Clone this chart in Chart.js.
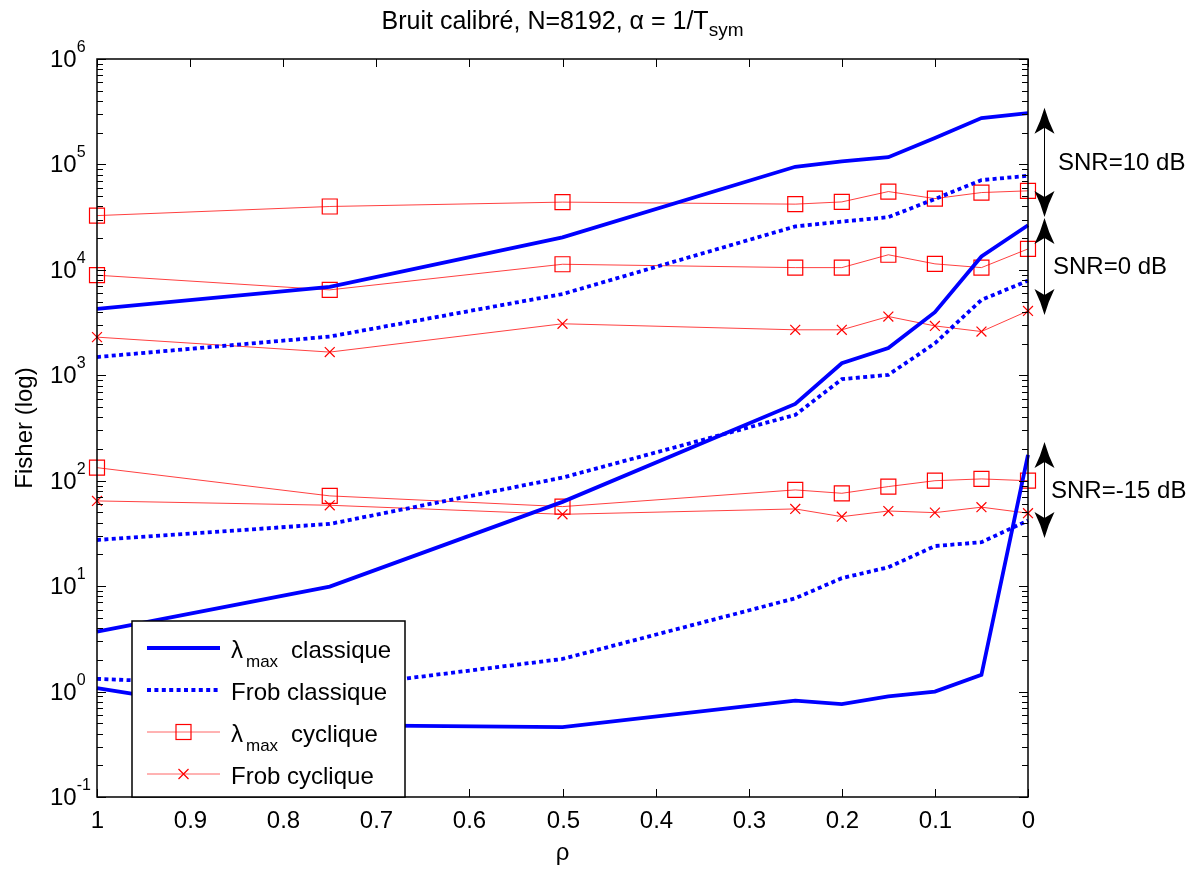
<!DOCTYPE html>
<html>
<head>
<meta charset="utf-8">
<script src="https://cdn.jsdelivr.net/npm/chart.js@4.4.1/dist/chart.umd.min.js"></script>
<style>
  html, body { margin: 0; padding: 0; background: #fff; }
</style>
</head>
<body>
<canvas id="fisherChart" width="1197" height="870"></canvas>
<script>
// rho values (x axis, drawn reversed from 1 to 0)
const rho = [1, 0.75, 0.5, 0.25, 0.2, 0.15, 0.1, 0.05, 0];

// SNR = 10 dB
const lmaxClassique10 = [4270, 6900, 20300, 95000, 107000, 117000, 178000, 275000, 307000];
const frobClassique10 = [1490, 2330, 5900, 25800, 28700, 31600, 47000, 71000, 78000];
const lmaxCyclique10 = [32700, 39900, 43900, 42000, 44100, 55300, 47400, 54100, 56200];

// SNR = 0 dB
const lmaxClassique0 = [3.7, 9.9, 63, 535, 1300, 1810, 3970, 13400, 26500];
const frobClassique0 = [27.4, 38.9, 107, 421, 918, 1010, 2010, 5190, 7900];
const lmaxCyclique0 = [8900, 6460, 11300, 10500, 10500, 13900, 11400, 10500, 15800];
const frobCyclique0 = [2300, 1660, 3080, 2700, 2700, 3610, 2940, 2600, 4080];

// SNR = -15 dB
const lmaxClassiqueM15 = [1.08, 0.48, 0.46, 0.82, 0.76, 0.9, 1.0, 1.44, 176];
const frobClassiqueM15 = [1.32, 1.08, 2.04, 7.67, 11.9, 15.1, 24.0, 26.1, 41.9];
const lmaxCycliqueM15 = [133, 71.8, 56.8, 81.8, 76, 88, 100, 104, 100];
const frobCycliqueM15 = [64.3, 58.5, 48, 54, 45.6, 51.6, 49.8, 56.1, 49.2];

const xTicks = [0, 0.1, 0.2, 0.3, 0.4, 0.5, 0.6, 0.7, 0.8, 0.9, 1];
const yDecades = [-1, 0, 1, 2, 3, 4, 5, 6];

// double arrows on the right, in data units
const snrMarks = [
  { label: 'SNR=10 dB', from: 3.44e5, to: 3.18e4, dx: 30 },
  { label: 'SNR=0 dB', from: 3.11e4, to: 3.74e3, dx: 25 },
  { label: 'SNR=-15 dB', from: 233, to: 28.6, dx: 23 },
];

const legendRows = [
  { main: 'λ', sub: 'max', rest: 'classique', kind: 'solid' },
  { main: 'Frob classique', sub: '', rest: '', kind: 'dotted' },
  { main: 'λ', sub: 'max', rest: 'cyclique', kind: 'square' },
  { main: 'Frob cyclique', sub: '', rest: '', kind: 'cross' },
];

const BLUE = '#0000ff';
const RED = '#ff0000';
const FONT = '"Liberation Sans", Arial, Helvetica, sans-serif';

const toPoints = (values) => values.map((v, i) => ({ x: rho[i], y: v }));

const solidLine = (label, values) => ({
  label, data: toPoints(values), borderColor: BLUE, borderWidth: 3.8,
  pointRadius: 0, tension: 0, fill: false, clip: false,
});

const dottedLine = (label, values) => ({
  label, data: toPoints(values), borderColor: BLUE, borderWidth: 3.8,
  borderDash: [4, 3.4], borderCapStyle: 'butt',
  pointRadius: 0, tension: 0, fill: false, clip: false,
});

const markedLine = (label, values, style) => ({
  label, data: toPoints(values), borderColor: 'rgba(255,0,0,0.75)', borderWidth: 1,
  pointStyle: style, pointRadius: style === 'rect' ? 10.6 : 7,
  pointBorderColor: RED, pointBackgroundColor: 'rgba(0,0,0,0)', pointBorderWidth: 1.2,
  tension: 0, fill: false, clip: false,
});

// draws text pieces one after another (gap = extra space before a piece)
const drawParts = (ctx, parts, x, y) => {
  parts.forEach((p) => {
    if (!p.text) return;
    x += p.gap || 0;
    ctx.font = `${p.size}px ${FONT}`;
    ctx.fillText(p.text, x, y + (p.dy || 0));
    x += ctx.measureText(p.text).width;
  });
  return x;
};

const partsWidth = (ctx, parts) => parts.reduce((w, p) => {
  if (!p.text) return w;
  ctx.font = `${p.size}px ${FONT}`;
  return w + (p.gap || 0) + ctx.measureText(p.text).width;
}, 0);

const drawArrowHead = (ctx, x, tipY, dir) => {
  // dir = 1 points up, -1 points down
  ctx.beginPath();
  ctx.moveTo(x, tipY);
  ctx.quadraticCurveTo(x - 4, tipY + dir * 14, x - 10, tipY + dir * 26);
  ctx.lineTo(x, tipY + dir * 20);
  ctx.lineTo(x + 10, tipY + dir * 26);
  ctx.quadraticCurveTo(x + 4, tipY + dir * 14, x, tipY);
  ctx.closePath();
  ctx.fill();
};

const matlabAxes = {
  id: 'matlabAxes',
  afterDraw(chart) {
    const { ctx, chartArea: a, scales: { x, y } } = chart;
    ctx.save();
    ctx.fillStyle = '#000';
    ctx.strokeStyle = '#000';

    // box
    ctx.lineWidth = 1.5;
    ctx.strokeRect(a.left, a.top, a.right - a.left, a.bottom - a.top);

    // x ticks + labels
    ctx.lineWidth = 1;
    ctx.font = `24px ${FONT}`;
    ctx.textAlign = 'center';
    ctx.textBaseline = 'middle';
    xTicks.forEach((v) => {
      const px = Math.round(x.getPixelForValue(v)) + 0.5;
      ctx.beginPath();
      ctx.moveTo(px, a.bottom); ctx.lineTo(px, a.bottom - 8);
      ctx.moveTo(px, a.top); ctx.lineTo(px, a.top + 8);
      ctx.stroke();
      ctx.fillText(String(Number(v.toFixed(1))), px, a.bottom + 24);
    });

    // y ticks (major + minor) + labels 10^k
    yDecades.forEach((k) => {
      const py = Math.round(y.getPixelForValue(10 ** k)) + 0.5;
      ctx.beginPath();
      ctx.moveTo(a.left, py); ctx.lineTo(a.left + 9, py);
      ctx.moveTo(a.right, py); ctx.lineTo(a.right - 9, py);
      ctx.stroke();
      if (k < 6) {
        for (let m = 2; m <= 9; m++) {
          const pm = Math.round(y.getPixelForValue(m * 10 ** k)) + 0.5;
          ctx.beginPath();
          ctx.moveTo(a.left, pm); ctx.lineTo(a.left + 6, pm);
          ctx.moveTo(a.right, pm); ctx.lineTo(a.right - 6, pm);
          ctx.stroke();
        }
      }
      ctx.textAlign = 'left';
      ctx.textBaseline = 'middle';
      ctx.font = `24px ${FONT}`;
      ctx.fillText('10', 50, py + 1);
      const w = ctx.measureText('10').width;
      ctx.font = `16px ${FONT}`;
      ctx.fillText(String(k), 50 + w, py - 12);
    });

    // axis titles
    ctx.textAlign = 'center';
    ctx.textBaseline = 'alphabetic';
    ctx.font = `24px ${FONT}`;
    ctx.fillText('ρ', (a.left + a.right) / 2, 860);
    ctx.save();
    ctx.translate(32, (a.top + a.bottom) / 2);
    ctx.rotate(-Math.PI / 2);
    ctx.fillText('Fisher (log)', 0, 0);
    ctx.restore();

    // title with subscript
    const titleParts = [
      { text: 'Bruit calibré, N=8192, α = 1/T', size: 25 },
      { text: 'sym', size: 19, dy: 7 },
    ];
    ctx.textAlign = 'left';
    const tw = partsWidth(ctx, titleParts);
    drawParts(ctx, titleParts, (a.left + a.right) / 2 - tw / 2, 29);

    // legend
    const lx = a.left + 35;
    const lw = 273;
    const lh = 176;
    const ly = a.bottom - lh;
    ctx.fillStyle = '#fff';
    ctx.fillRect(lx, ly, lw, lh);
    ctx.lineWidth = 1.5;
    ctx.strokeRect(lx, ly, lw, lh);
    legendRows.forEach((row, i) => {
      const cy = ly + 27 + i * 42;
      const x0 = lx + 15;
      const x1 = lx + 88;
      ctx.save();
      ctx.beginPath();
      ctx.moveTo(x0, cy); ctx.lineTo(x1, cy);
      if (row.kind === 'solid' || row.kind === 'dotted') {
        ctx.strokeStyle = BLUE;
        ctx.lineWidth = 3.8;
        if (row.kind === 'dotted') ctx.setLineDash([4, 3.4]);
        ctx.stroke();
      } else {
        ctx.strokeStyle = 'rgba(255,0,0,0.6)';
        ctx.lineWidth = 1;
        ctx.stroke();
        ctx.strokeStyle = RED;
        ctx.lineWidth = 1.2;
        const mx = (x0 + x1) / 2;
        if (row.kind === 'square') {
          ctx.strokeRect(mx - 7.5, cy - 7.5, 15, 15);
        } else {
          ctx.beginPath();
          ctx.moveTo(mx - 5, cy - 5); ctx.lineTo(mx + 5, cy + 5);
          ctx.moveTo(mx + 5, cy - 5); ctx.lineTo(mx - 5, cy + 5);
          ctx.stroke();
        }
      }
      ctx.restore();
      ctx.fillStyle = '#000';
      ctx.textBaseline = 'alphabetic';
      drawParts(ctx, [
        { text: row.main, size: 24 },
        { text: row.sub, size: 17, dy: 9, gap: 3 },
        { text: row.rest, size: 24, gap: 13 },
      ], lx + 99, cy + 10);
    });

    // SNR double arrows
    ctx.fillStyle = '#000';
    ctx.strokeStyle = '#000';
    ctx.lineWidth = 1;
    const ax = a.right + 16.5;
    snrMarks.forEach((m) => {
      const yTop = y.getPixelForValue(m.from);
      const yBot = y.getPixelForValue(m.to);
      ctx.beginPath();
      ctx.moveTo(ax, yTop + 4); ctx.lineTo(ax, yBot - 4);
      ctx.stroke();
      drawArrowHead(ctx, ax, yTop, 1);
      drawArrowHead(ctx, ax, yBot, -1);
      ctx.font = `24px ${FONT}`;
      ctx.textAlign = 'left';
      ctx.textBaseline = 'middle';
      ctx.fillText(m.label, a.right + m.dx, (yTop + yBot) / 2 + 1);
    });

    ctx.restore();
  },
};

new Chart(document.getElementById('fisherChart'), {
  type: 'line',
  data: {
    datasets: [
      solidLine('λmax classique 10 dB', lmaxClassique10),
      solidLine('λmax classique 0 dB', lmaxClassique0),
      solidLine('λmax classique -15 dB', lmaxClassiqueM15),
      dottedLine('Frob classique 10 dB', frobClassique10),
      dottedLine('Frob classique 0 dB', frobClassique0),
      dottedLine('Frob classique -15 dB', frobClassiqueM15),
      markedLine('λmax cyclique 10 dB', lmaxCyclique10, 'rect'),
      markedLine('λmax cyclique 0 dB', lmaxCyclique0, 'rect'),
      markedLine('λmax cyclique -15 dB', lmaxCycliqueM15, 'rect'),
      markedLine('Frob cyclique 0 dB', frobCyclique0, 'crossRot'),
      markedLine('Frob cyclique -15 dB', frobCycliqueM15, 'crossRot'),
    ],
  },
  options: {
    responsive: false,
    devicePixelRatio: 1,
    animation: false,
    layout: { padding: { left: 0, top: 59, right: 169, bottom: 0 } },
    plugins: { legend: { display: false }, title: { display: false }, tooltip: { enabled: false } },
    scales: {
      x: {
        type: 'linear', min: 0, max: 1, reverse: true,
        grid: { display: false }, border: { display: false }, ticks: { display: false },
        afterFit: (scale) => { scale.height = 73; },
      },
      y: {
        type: 'logarithmic', min: 0.1, max: 1e6,
        grid: { display: false }, border: { display: false }, ticks: { display: false },
        afterFit: (scale) => { scale.width = 97; },
      },
    },
  },
  plugins: [matlabAxes],
});
</script>
</body>
</html>
